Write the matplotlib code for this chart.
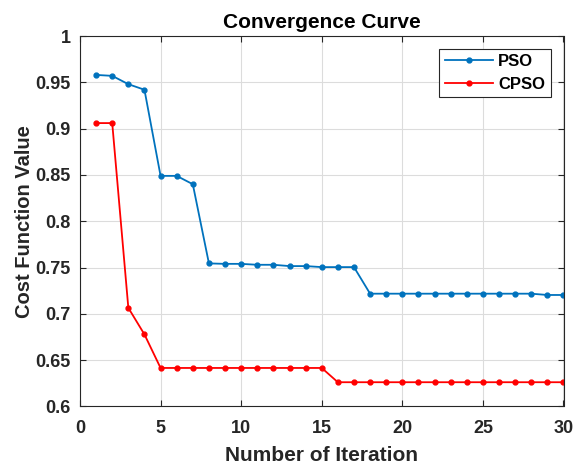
import numpy as np
import matplotlib
matplotlib.use("Agg")
import matplotlib.pyplot as plt

plt.rcParams['font.family'] = ['Liberation Sans', 'DejaVu Sans']

# iteration numbers
iters = np.arange(1, 31)

# best cost per iteration
pso = [0.958, 0.957, 0.948, 0.942, 0.849, 0.849, 0.840, 0.7545, 0.754, 0.754,
       0.753, 0.753, 0.7516, 0.7516, 0.7505, 0.7505, 0.7505, 0.7218, 0.7218, 0.7218,
       0.7218, 0.7218, 0.7218, 0.7218, 0.7218, 0.7218, 0.7218, 0.7218, 0.7204, 0.7204]
cpso = [0.906, 0.906, 0.7065, 0.6778, 0.6416, 0.6416, 0.6416, 0.6416, 0.6416, 0.6416,
        0.6416, 0.6416, 0.6416, 0.6416, 0.6416, 0.6262, 0.6262, 0.6262, 0.6262, 0.6262,
        0.6262, 0.6262, 0.6262, 0.6262, 0.6262, 0.6262, 0.6262, 0.6262, 0.6262, 0.6262]
ytick_labels = ['0.6', '0.65', '0.7', '0.75', '0.8', '0.85', '0.9', '0.95', '1']

fig = plt.figure(figsize=(5.75, 4.66), dpi=100)
ax = fig.add_axes([0.1391, 0.1277, 0.8409, 0.795])

ax.plot(iters, pso, color='#0072BD', marker='.', markersize=7, linewidth=1.3, label='PSO')
ax.plot(iters, cpso, color='#FF0000', marker='.', markersize=7, linewidth=1.3, label='CPSO')

ax.set_xlim(0, 30)
ax.set_ylim(0.6, 1)
ax.set_xticks(np.arange(0, 31, 5))
ax.set_yticks(np.arange(0.6, 1.001, 0.05))
ax.set_yticklabels(ytick_labels)
ax.tick_params(direction='in', top=True, right=True, labelsize=13, length=4, width=0.8,
               colors='#262626')
ax.tick_params(axis='x', pad=10)
ax.tick_params(axis='y', pad=6.5)
for lab in ax.get_xticklabels() + ax.get_yticklabels():
    lab.set_fontweight('bold')
ax.grid(True, color='#dcdcdc', linewidth=0.8)
ax.set_axisbelow(True)
for s in ax.spines.values():
    s.set_color('#262626')
    s.set_linewidth(0.8)

ax.set_title('Convergence Curve', fontsize=15, fontweight='bold', pad=6)
ax.set_xlabel('Number of Iteration', fontsize=15, fontweight='bold', labelpad=6, color='#262626')
ax.set_ylabel('Cost Function Value', fontsize=14.5, fontweight='bold', labelpad=1, color='#262626')

leg = ax.legend(loc='upper right', prop={'weight': 'bold', 'size': 12}, fancybox=False,
                edgecolor='#262626', framealpha=1, borderaxespad=0.75, handlelength=2.85,
                labelspacing=0.44, borderpad=0.34, handletextpad=0.35)
leg.get_frame().set_linewidth(0.8)

fig.savefig('out.png', dpi=100)
